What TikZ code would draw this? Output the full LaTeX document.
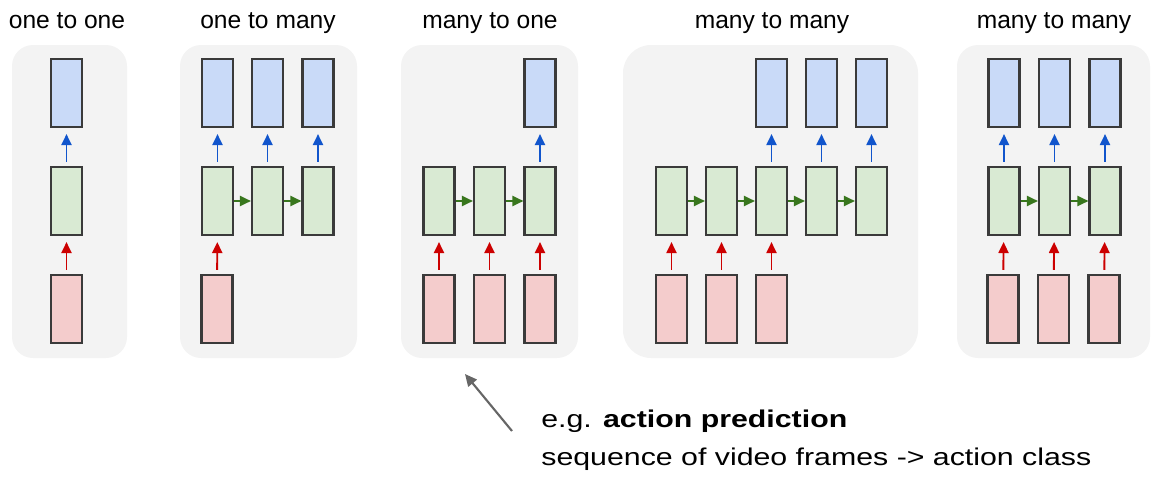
\documentclass[tikz,border=0pt]{standalone}
\usepackage{fontspec}
\setmainfont{Liberation Sans}
\newfontfamily\notefont[FakeStretch=1.25]{Liberation Sans}
\usetikzlibrary{arrows.meta,positioning,calc}

\definecolor{panelgray}{HTML}{F3F3F3}
\definecolor{boxedge}{HTML}{3A3A3A}
\definecolor{outfill}{HTML}{C9DAF8}
\definecolor{hidfill}{HTML}{D9EAD3}
\definecolor{infill}{HTML}{F4CCCC}
\definecolor{outline}{HTML}{1155CC}
\definecolor{hidline}{HTML}{38761D}
\definecolor{inline}{HTML}{CC0000}
\definecolor{pointer}{HTML}{666666}

\begin{document}
\begin{tikzpicture}[
  x=.02cm,y=-.02cm,
  font=\fontsize{14}{16}\selectfont,
  panel/.style={fill=panelgray,rounded corners=.42cm},
  cell/.style={draw=boxedge,line width=1.2pt,minimum width=.62cm,
    minimum height=1.36cm,inner sep=0pt},
  ybox/.style={cell,fill=outfill},
  hbox/.style={cell,fill=hidfill},
  xbox/.style={cell,fill=infill},
  uparrow/.style={line width=1.1pt,shorten <=.08cm,shorten >=.12cm,
    -{Triangle[length=.22cm,width=.2cm]}},
  outarrow/.style={uparrow,outline},
  inarrow/.style={uparrow,inline},
  recarrow/.style={hidline,line width=1.1pt,-{Triangle[length=.22cm,width=.2cm]}},
  title/.style={anchor=base}
]
\useasboundingbox (0,0) rectangle (1166,490);

% background panels
\fill[panel] (12,45) rectangle (127,358);
\fill[panel] (180,45) rectangle (357,358);
\fill[panel] (401,45) rectangle (578,358);
\fill[panel,rounded corners=.56cm] (623,45) rectangle (918,358);
\fill[panel] (957,45) rectangle (1150,358);

% titles
\node[title] (t1) at (67,29) {one to one};
\node[title] (t2) at (268,29) {one to many};
\node[title] (t3) at (490,29) {many to one};
\node[title] (t4) at (772,29) {many to many};
\node[title] (t5) at (1054,29) {many to many};

% one to one
\node[ybox] (a-y1) at (66.5,93) {};
\node[hbox] (a-h1) at (66.5,201) {};
\node[xbox] (a-x1) at (66.5,309) {};
\draw[inarrow] (a-x1) -- (a-h1);
\draw[outarrow] (a-h1) -- (a-y1);

% one to many
\foreach \i/\cx in {1/217.5,2/267.5,3/318} {
  \node[ybox] (b-y\i) at (\cx,93) {};
  \node[hbox] (b-h\i) at (\cx,201) {};
  \draw[outarrow] (b-h\i) -- (b-y\i);
}
\node[xbox] (b-x1) at (217,309) {};
\draw[inarrow] (b-x1) -- (b-h1);
\foreach \i/\j in {1/2,2/3} \draw[recarrow] (b-h\i) -- (b-h\j);

% many to one
\foreach \i/\cx in {1/439,2/489.5,3/540} {
  \node[hbox] (c-h\i) at (\cx,201) {};
  \node[xbox] (c-x\i) at (\cx,309) {};
  \draw[inarrow] (c-x\i) -- (c-h\i);
}
\node[ybox] (c-y3) at (540,93) {};
\draw[outarrow] (c-h3) -- (c-y3);
\foreach \i/\j in {1/2,2/3} \draw[recarrow] (c-h\i) -- (c-h\j);

% many to many (delayed)
\foreach \i/\cx in {1/671.5,2/721.5,3/771.5,4/821.5,5/871.5}
  \node[hbox] (d-h\i) at (\cx,201) {};
\foreach \i in {1,2,3} {
  \node[xbox] (d-x\i) at ($(d-h\i)+(0,108)$) {};
  \draw[inarrow] (d-x\i) -- (d-h\i);
}
\foreach \i in {3,4,5} {
  \node[ybox] (d-y\i) at ($(d-h\i)+(0,-108)$) {};
  \draw[outarrow] (d-h\i) -- (d-y\i);
}
\foreach \i/\j in {1/2,2/3,3/4,4/5} \draw[recarrow] (d-h\i) -- (d-h\j);

% many to many (synced)
\foreach \i/\cx in {1/1004,2/1054.5,3/1105} {
  \node[ybox] (e-y\i) at (\cx,93) {};
  \node[hbox] (e-h\i) at (\cx,201) {};
  \node[xbox] (e-x\i) at (\cx-1,309) {};
  \draw[inarrow] (e-x\i) -- (e-h\i);
  \draw[outarrow] (e-h\i) -- (e-y\i);
}
\foreach \i/\j in {1/2,2/3} \draw[recarrow] (e-h\i) -- (e-h\j);

% note on many to one
\node[anchor=base west,inner sep=0pt,font=\notefont\fontsize{13.8}{16}\selectfont]
  (note1) at (541,427) {e.g. \textbf{action prediction}};
\node[anchor=base west,inner sep=0pt,font=\notefont\fontsize{13.8}{16}\selectfont]
  (note2) at (541,465) {sequence of video frames -> action class};
\coordinate (tail) at (512,431);
\coordinate (head) at (465,374);
\draw[pointer,line width=1.2pt,-{Triangle[length=.24cm,width=.22cm]}] (tail) -- (head);
\end{tikzpicture}
\end{document}
